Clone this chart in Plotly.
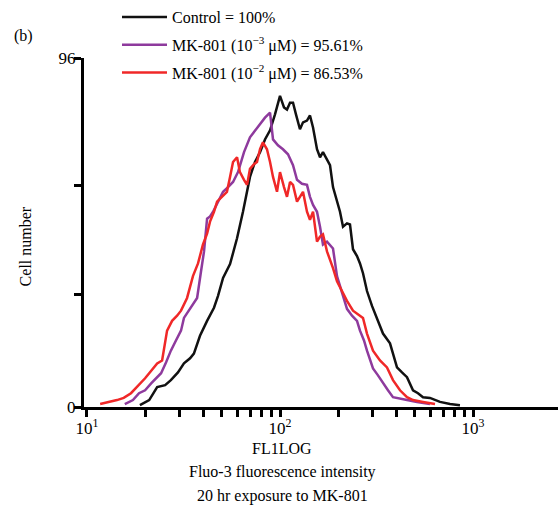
import plotly.graph_objects as go

# ---- data (FL1 intensity, cell count) ----
ctrl_x = [18.8, 21.0, 23.1, 25.4, 27.2, 29.6, 31.8, 34.2, 35.8, 38.5, 41.9, 45.5, 47.7, 50.7, 55.1,
          59.9, 64.3, 69.9, 74.2, 78.8, 83.6, 88.8, 94.2, 100, 104.9, 108.7, 112.7, 116.8, 121.0,
          126.9, 131.6, 138.0, 143.0, 148.3, 155.5, 161.2, 167.0, 175.2, 181.6, 188.2, 197.4, 204.6,
          212.1, 222.4, 230.5, 238.9, 250.6, 259.7, 269.2, 282.3, 299.7, 318.1, 341.7, 371.5, 403.8,
          428.6, 455.0, 488.8, 518.8, 550.8, 598.5, 674.5, 760, 856]
ctrl_y = [0.5, 1.9, 5.5, 6.0, 7.4, 9.5, 12.0, 13.4, 14.7, 19.6, 23.7, 27.3, 30.5, 35.5, 39.3,
          46.4, 53.7, 63.3, 67.4, 70.1, 73.6, 76.1, 80.5, 85.6, 82.4, 81.8, 83.7, 83.7, 80.5,
          76.4, 78.3, 78.8, 80.2, 76.9, 70.9, 68.7, 70.1, 67.9, 66.5, 60.5, 56.5, 53.7,
          49.6, 50.5, 50.2, 43.4, 41.5, 39.5, 36.8, 31.9, 27.8, 24.5, 20.2, 17.5, 10.9,
          9.5, 8.2, 4.6, 3.8, 2.7, 2.5, 1.4, 0.8, 0.5]

mk3_x = [15.7, 17.3, 18.6, 20.0, 21.5, 22.8, 24.2, 25.7, 27.2, 28.9, 30.7, 31.8, 34.2, 37.2, 39.0,
         40.4, 41.9, 43.4, 45.0, 47.7, 50.7, 53.8, 57.1, 60.6, 65.1, 69.9, 74.2, 78.8, 83.6, 88.8,
         92.0, 97.6, 103.6, 110.0, 116.8, 122.5, 130.0, 138.0, 143.0, 148.3, 155.5, 161.2, 167.0,
         175.2, 188.2, 197.4, 209.5, 222.4, 236.1, 250.6, 259.7, 272.4, 282.3, 303.3, 321.9, 341.7,
         362.7, 385.0, 418.5, 455.0, 512.6, 598.5]
mk3_y = [0.8, 1.9, 3.8, 4.6, 6.5, 7.9, 9.3, 12.3, 15.5, 18.3, 21.0, 24.5, 27.0, 30.0, 37.4,
         42.8, 51.8, 52.4, 53.7, 56.5, 59.2, 60.5, 61.9, 64.6, 70.1, 74.2, 76.1, 77.7, 79.6, 81.0,
         73.6, 72.0, 70.9, 69.5, 66.5, 62.5, 61.4, 61.1, 57.8, 55.6, 53.7, 49.6, 44.7,
         45.5, 43.6, 36.0, 31.4, 27.0, 25.1, 23.7, 21.0, 18.3, 15.5, 10.6, 8.7, 6.5,
         4.6, 2.7, 2.2, 1.9, 1.4, 0.8]

mk2_x = [11.7, 13.2, 14.3, 15.5, 16.9, 17.9, 19.0, 20.0, 21.0, 22.0, 23.1, 24.5, 26.0, 27.6, 29.3,
         30.7, 33.0, 35.4, 37.6, 39.9, 41.9, 43.4, 45.5, 47.2, 50.1, 53.1, 55.1, 57.1, 59.9, 62.0,
         65.1, 67.5, 69.9, 73.3, 76.0, 78.8, 81.6, 85.6, 88.8, 92.0, 96.5, 100, 104.9, 108.7, 112.7,
         116.8, 122.5, 126.9, 131.6, 138.0, 143.0, 148.3, 155.5, 161.2, 167.0, 175.2, 181.6, 188.2,
         197.4, 209.5, 222.4, 238.9, 253.6, 269.2, 282.3, 303.3, 329.7, 358.4, 385.0, 418.5, 455.0,
         488.8, 550.8, 635.6]
mk2_y = [0.8, 1.4, 1.9, 2.5, 3.8, 5.2, 6.5, 7.9, 9.3, 10.6, 12.0, 12.8, 21.0, 23.7, 25.1,
         26.5, 30.0, 36.0, 39.5, 44.7, 47.7, 51.0, 53.7, 56.5, 57.8, 59.2, 63.3, 67.4, 68.7, 64.6,
         62.5, 61.1, 65.5, 66.8, 67.4, 70.9, 72.8, 70.9, 67.4, 63.3, 59.2, 64.6, 60.5, 57.8, 61.9,
         61.1, 56.5, 57.8, 59.2, 53.7, 51.5, 53.7, 45.5, 46.9, 47.5, 42.8, 40.6, 38.2,
         34.6, 31.9, 29.2, 26.5, 25.6, 24.5, 20.2, 15.5, 12.8, 10.9, 7.4, 4.6, 2.7,
         1.9, 1.4, 0.8]

series_names = ["Control = 100%",
                "MK-801 (10<sup>\u22123</sup> \u03bcM) = 95.61%",
                "MK-801 (10<sup>\u22122</sup> \u03bcM) = 86.53%"]

x_major = [10, 100, 1000]
x_major_text = ["10<sup>1</sup>", "10<sup>2</sup>", "10<sup>3</sup>"]
x_minor = [20, 30, 40, 50, 60, 70, 80, 90, 200, 300, 400, 500, 600, 700, 800, 900]
y_major = [0, 96]
y_major_text = ["0", "96"]
y_minor = [31, 61]

FONT = "Liberation Serif"
colors = ["#111111", "#8e3a9d", "#f02828"]

fig = go.Figure()
for i, (xs, ys) in enumerate([(ctrl_x, ctrl_y), (mk3_x, mk3_y), (mk2_x, mk2_y)]):
    fig.add_trace(go.Scatter(x=xs, y=ys, mode="lines", name=series_names[i],
                             legendgroup=f"g{i}",
                             line=dict(color=colors[i], width=2.5)))

fig.update_layout(
    width=558, height=514,
    margin=dict(l=84, r=0, t=55, b=107),
    paper_bgcolor="white", plot_bgcolor="white",
    font=dict(family=FONT, size=16, color="black"),
    showlegend=True,
    legend=dict(x=(117 - 84) / 474, y=1.0 + (55 + 4) / 352, xanchor="left", yanchor="top",
                bgcolor="rgba(0,0,0,0)", tracegroupgap=4, itemwidth=45,
                font=dict(family=FONT, size=16, color="black")),
    xaxis=dict(type="log", range=[0.9845, 3.4404], showgrid=False, zeroline=False,
               showline=True, linecolor="black", linewidth=3,
               ticks="outside", ticklen=7, tickwidth=2.5, tickcolor="black",
               tickmode="array", tickvals=x_major, ticktext=x_major_text,
               ticklabelstandoff=-3,
               minor=dict(tickmode="array", tickvals=x_minor, ticks="outside",
                          ticklen=7, tickwidth=2.5, tickcolor="black", showgrid=False),
               tickfont=dict(family=FONT, size=17, color="black")),
    yaxis=dict(range=[0, 96], showgrid=False, zeroline=False,
               showline=True, linecolor="black", linewidth=3,
               ticks="outside", ticklen=7, tickwidth=2.5, tickcolor="black",
               tickmode="array", tickvals=y_major, ticktext=y_major_text,
               ticklabelstandoff=-5,
               minor=dict(tickmode="array", tickvals=y_minor, ticks="outside",
                          ticklen=7, tickwidth=2.5, tickcolor="black", showgrid=False),
               tickfont=dict(family=FONT, size=17, color="black")),
)

def ann(text, x, y, **kw):
    fig.add_annotation(text=text, x=x, y=y, xref="paper", yref="paper",
                       showarrow=False, font=dict(family=FONT, size=16, color="black"), **kw)

ann("FL1LOG", (282 - 84) / 474, (407 - 449) / 352, xanchor="center", yanchor="middle")
ann("Fluo-3 fluorescence intensity", (282 - 84) / 474, (407 - 473) / 352, xanchor="center", yanchor="middle")
ann("20 hr exposure to MK-801", (282 - 84) / 474, (407 - 497) / 352, xanchor="center", yanchor="middle")
ann("Cell number", (25 - 84) / 474, (407 - 245) / 352, xanchor="center", yanchor="middle", textangle=-90)
ann("(b)", (24 - 84) / 474, (407 - 33) / 352, xanchor="center", yanchor="middle")

fig.write_html("out.html")
